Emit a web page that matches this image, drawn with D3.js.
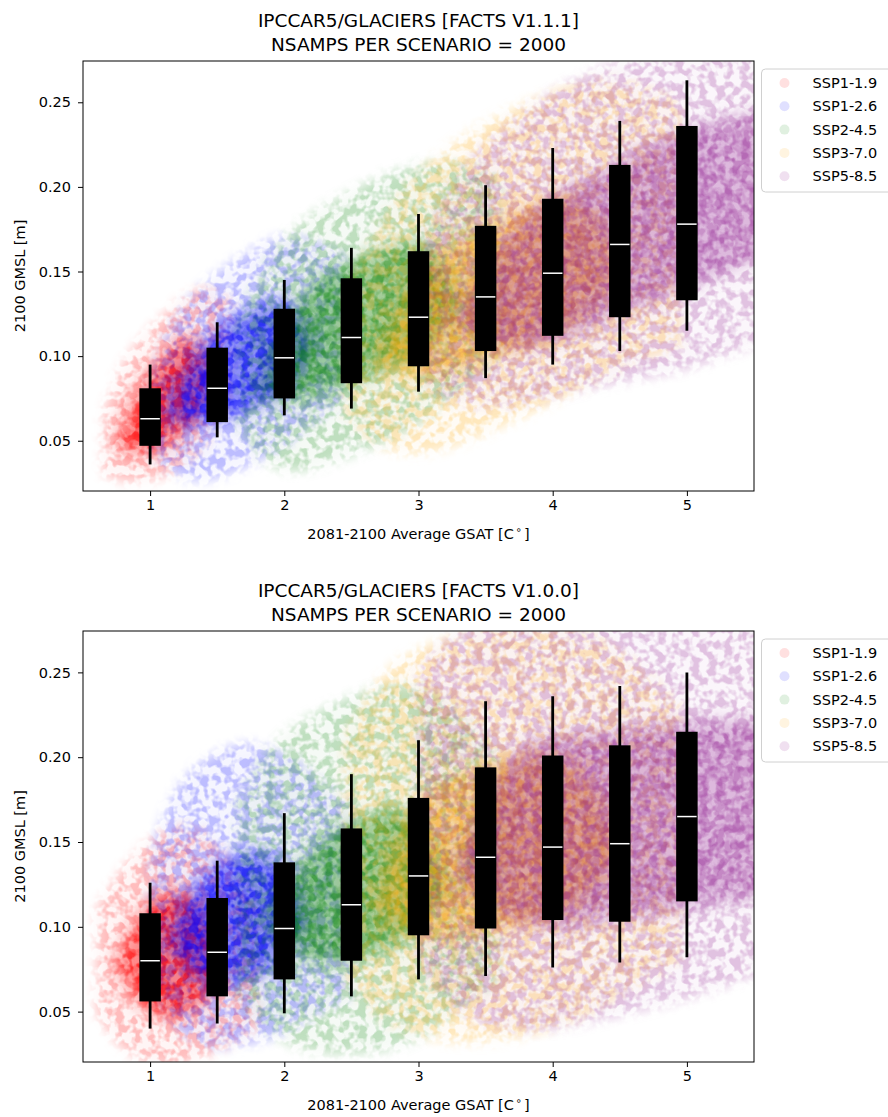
<!DOCTYPE html>
<html>
<head>
<meta charset="utf-8">
<script src="https://cdn.jsdelivr.net/npm/d3@7"></script>
<style>
  body { margin: 0; background: #fff; }
  svg { display: block; }
  text { font-family: "DejaVu Sans", sans-serif; fill: #000; }
</style>
</head>
<body>
<svg id="fig" width="888" height="1117"></svg>
<script>
// ---- scenarios ----
const scenarios = ["SSP1-1.9", "SSP1-2.6", "SSP2-4.5", "SSP3-7.0", "SSP5-8.5"];
const scenarioColors = ["#ff0000", "#0000ff", "#008000", "#ffa500", "#800080"];

// ---- sample clouds: rows [GSAT, low, high, coreLow, coreHigh] (GMSL in m) ----
// FACTS v1.1.1
const v111_ssp119 = [
  [0.65, 0.030, 0.065, null, null],
  [0.75, 0.027, 0.090, 0.048, 0.052],
  [0.90, 0.025, 0.108, 0.040, 0.080],
  [1.05, 0.027, 0.120, 0.045, 0.095],
  [1.20, 0.032, 0.132, 0.052, 0.108],
  [1.35, 0.042, 0.140, 0.062, 0.115],
  [1.45, 0.055, 0.140, 0.085, 0.090],
  [1.60, 0.075, 0.132, null, null]
];
const v111_ssp126 = [
  [1.00, 0.045, 0.085, null, null],
  [1.15, 0.030, 0.120, 0.065, 0.070],
  [1.35, 0.025, 0.140, 0.058, 0.105],
  [1.60, 0.030, 0.155, 0.063, 0.122],
  [1.85, 0.040, 0.168, 0.072, 0.132],
  [2.05, 0.050, 0.172, 0.080, 0.135],
  [2.20, 0.060, 0.168, 0.105, 0.110],
  [2.45, 0.075, 0.160, null, null]
];
const v111_ssp245 = [
  [1.65, 0.060, 0.120, null, null],
  [1.85, 0.035, 0.155, 0.080, 0.085],
  [2.10, 0.030, 0.180, 0.072, 0.140],
  [2.45, 0.040, 0.195, 0.083, 0.155],
  [2.80, 0.050, 0.210, 0.093, 0.165],
  [3.10, 0.065, 0.215, 0.105, 0.170],
  [3.30, 0.080, 0.215, 0.130, 0.135],
  [3.60, 0.100, 0.205, null, null]
];
const v111_ssp370 = [
  [2.45, 0.065, 0.135, null, null],
  [2.70, 0.045, 0.180, 0.095, 0.100],
  [3.00, 0.040, 0.210, 0.085, 0.155],
  [3.40, 0.050, 0.235, 0.095, 0.175],
  [3.80, 0.065, 0.250, 0.105, 0.190],
  [4.20, 0.080, 0.262, 0.118, 0.200],
  [4.50, 0.095, 0.265, 0.150, 0.155],
  [4.95, 0.105, 0.250, null, null]
];
const v111_ssp585 = [
  [3.05, 0.085, 0.170, null, null],
  [3.30, 0.070, 0.210, 0.120, 0.125],
  [3.70, 0.070, 0.240, 0.100, 0.180],
  [4.10, 0.078, 0.262, 0.112, 0.198],
  [4.50, 0.085, 0.275, 0.125, 0.215],
  [4.90, 0.090, 0.280, 0.138, 0.232],
  [5.30, 0.100, 0.280, 0.150, 0.240],
  [5.60, 0.110, 0.280, 0.160, 0.245]
];
// FACTS v1.0.0
const v100_ssp119 = [
  [0.60, 0.050, 0.110, null, null],
  [0.75, 0.030, 0.130, 0.075, 0.080],
  [0.95, 0.020, 0.150, 0.050, 0.115],
  [1.15, 0.018, 0.158, 0.045, 0.122],
  [1.35, 0.020, 0.160, 0.050, 0.120],
  [1.55, 0.030, 0.145, 0.070, 0.075],
  [1.80, 0.040, 0.110, null, null]
];
const v100_ssp126 = [
  [1.00, 0.075, 0.140, null, null],
  [1.15, 0.040, 0.180, 0.090, 0.095],
  [1.40, 0.028, 0.200, 0.065, 0.135],
  [1.70, 0.030, 0.210, 0.068, 0.145],
  [1.95, 0.035, 0.205, 0.075, 0.145],
  [2.15, 0.045, 0.195, 0.100, 0.110],
  [2.50, 0.060, 0.170, null, null]
];
const v100_ssp245 = [
  [1.65, 0.060, 0.170, null, null],
  [1.90, 0.035, 0.210, 0.100, 0.110],
  [2.20, 0.025, 0.225, 0.075, 0.150],
  [2.60, 0.025, 0.240, 0.082, 0.165],
  [2.95, 0.030, 0.245, 0.092, 0.175],
  [3.20, 0.045, 0.235, 0.120, 0.130],
  [3.60, 0.070, 0.200, null, null]
];
const v100_ssp370 = [
  [2.45, 0.070, 0.210, null, null],
  [2.70, 0.045, 0.250, 0.110, 0.120],
  [3.00, 0.035, 0.265, 0.090, 0.180],
  [3.40, 0.030, 0.275, 0.095, 0.195],
  [3.80, 0.035, 0.280, 0.100, 0.200],
  [4.20, 0.045, 0.275, 0.110, 0.200],
  [4.50, 0.060, 0.265, 0.145, 0.155],
  [4.95, 0.080, 0.230, null, null]
];
const v100_ssp585 = [
  [3.00, 0.080, 0.250, null, null],
  [3.30, 0.045, 0.280, 0.130, 0.140],
  [3.70, 0.038, 0.280, 0.100, 0.210],
  [4.10, 0.040, 0.280, 0.100, 0.212],
  [4.50, 0.048, 0.280, 0.105, 0.215],
  [4.90, 0.055, 0.280, 0.110, 0.220],
  [5.30, 0.065, 0.280, 0.115, 0.222],
  [5.60, 0.075, 0.280, 0.120, 0.222]
];

// ---- GSAT-binned box plots: [whiskerLow, q1, median, q3, whiskerHigh] ----
const boxPositions = [1, 1.5, 2, 2.5, 3, 3.5, 4, 4.5, 5];
const v111_boxes = [
  [0.036, 0.047, 0.063, 0.081, 0.095],
  [0.052, 0.061, 0.081, 0.105, 0.120],
  [0.065, 0.075, 0.099, 0.128, 0.145],
  [0.069, 0.084, 0.111, 0.146, 0.164],
  [0.079, 0.094, 0.123, 0.162, 0.184],
  [0.087, 0.103, 0.135, 0.177, 0.201],
  [0.095, 0.112, 0.149, 0.193, 0.223],
  [0.103, 0.123, 0.166, 0.213, 0.239],
  [0.115, 0.133, 0.178, 0.236, 0.263]
];
const v100_boxes = [
  [0.040, 0.056, 0.080, 0.108, 0.126],
  [0.043, 0.059, 0.085, 0.117, 0.139],
  [0.049, 0.069, 0.099, 0.138, 0.167],
  [0.059, 0.080, 0.113, 0.158, 0.190],
  [0.069, 0.095, 0.130, 0.176, 0.210],
  [0.071, 0.099, 0.141, 0.194, 0.233],
  [0.076, 0.104, 0.147, 0.201, 0.236],
  [0.079, 0.103, 0.149, 0.207, 0.242],
  [0.082, 0.115, 0.165, 0.215, 0.250]
];

// ---- axes ----
const xTicks = [1, 2, 3, 4, 5];
const yTicks = [0.05, 0.10, 0.15, 0.20, 0.25];
const xDomain = [0.5, 5.5];
const yDomain = [0.0203, 0.2744];

const panels = [
  { top: 61, bottom: 491, title: ["IPCCAR5/GLACIERS [FACTS V1.1.1]", "NSAMPS PER SCENARIO = 2000"],
    clouds: [v111_ssp119, v111_ssp126, v111_ssp245, v111_ssp370, v111_ssp585], boxes: v111_boxes },
  { top: 631, bottom: 1062, title: ["IPCCAR5/GLACIERS [FACTS V1.0.0]", "NSAMPS PER SCENARIO = 2000"],
    clouds: [v100_ssp119, v100_ssp126, v100_ssp245, v100_ssp370, v100_ssp585], boxes: v100_boxes }
];

// cloud styling
const outerOpacity = [0.26, 0.26, 0.25, 0.26, 0.24];
const coreOpacity = [0.8, 0.75, 0.62, 0.55, 0.45];
const labelSize = 14.5, titleSize = 18.5;

const svg = d3.select("#fig");
const defs = svg.append("defs");

// soft, grainy fill: blurred shape whose alpha is modulated by a fine blotch texture
function grainFilter(id, blur, seed, keep) {
  const f = defs.append("filter").attr("id", id)
    .attr("x", "-25%").attr("y", "-25%").attr("width", "150%").attr("height", "150%")
    .attr("color-interpolation-filters", "sRGB");
  f.append("feGaussianBlur").attr("in", "SourceGraphic").attr("stdDeviation", blur).attr("result", "b");
  f.append("feTurbulence").attr("type", "fractalNoise").attr("baseFrequency", 0.12)
    .attr("numOctaves", 2).attr("seed", seed).attr("result", "n");
  f.append("feColorMatrix").attr("in", "n").attr("type", "matrix")
    .attr("values", "0 0 0 0 1  0 0 0 0 1  0 0 0 0 1  5 0 0 0 -2.1").attr("result", "m");
  f.append("feComposite").attr("in", "b").attr("in2", "m").attr("operator", "arithmetic")
    .attr("k1", 1 - keep).attr("k2", keep).attr("k3", 0).attr("k4", 0);
}

const left = 83, right = 754;
const x = d3.scaleLinear().domain(xDomain).range([left, right]);

panels.forEach((p, pi) => {
  const y = d3.scaleLinear().domain(yDomain).range([p.bottom, p.top]);
  const g = svg.append("g");
  const clipId = "clip" + pi;
  defs.append("clipPath").attr("id", clipId)
    .append("rect").attr("x", left).attr("y", p.top).attr("width", right - left).attr("height", p.bottom - p.top);

  const plot = g.append("g").attr("clip-path", `url(#${clipId})`);

  const outer = d3.area().x(d => x(d[0])).y0(d => y(d[1])).y1(d => y(d[2])).curve(d3.curveBasis);
  const core = d3.area().defined(d => d[3] != null).x(d => x(d[0])).y0(d => y(d[3])).y1(d => y(d[4])).curve(d3.curveBasis);

  p.clouds.forEach((rows, si) => {
    const oId = `go${pi}${si}`, cId = `gc${pi}${si}`;
    grainFilter(oId, 6, 11 + pi * 17 + si * 5, 0.15);
    grainFilter(cId, 8, 53 + pi * 13 + si * 7, 0.55);
    const sg = plot.append("g");
    sg.append("path").attr("d", outer(rows)).attr("fill", scenarioColors[si])
      .attr("fill-opacity", outerOpacity[si]).attr("filter", `url(#${oId})`);
    sg.append("path").attr("d", core(rows)).attr("fill", scenarioColors[si])
      .attr("fill-opacity", coreOpacity[si]).attr("filter", `url(#${cId})`);
  });

  // box plots
  const halfW = (x(0.08) - x(0));
  const bx = plot.selectAll("g.box").data(p.boxes).join("g").attr("class", "box")
    .attr("transform", (d, i) => `translate(${x(boxPositions[i])},0)`);
  bx.append("line").attr("x1", 0).attr("x2", 0).attr("y1", d => y(d[0])).attr("y2", d => y(d[4]))
    .attr("stroke", "#000").attr("stroke-width", 2.8);
  bx.append("rect").attr("x", -halfW).attr("width", 2 * halfW)
    .attr("y", d => y(d[3])).attr("height", d => y(d[1]) - y(d[3])).attr("fill", "#000");
  bx.append("line").attr("x1", -halfW + 1).attr("x2", halfW - 1).attr("y1", d => y(d[2])).attr("y2", d => y(d[2]))
    .attr("stroke", "#fff").attr("stroke-width", 1.5);

  // frame
  g.append("rect").attr("x", left).attr("y", p.top).attr("width", right - left).attr("height", p.bottom - p.top)
    .attr("fill", "none").attr("stroke", "#000").attr("stroke-width", 1);

  // axes
  const xa = g.append("g").attr("transform", `translate(0,${p.bottom})`)
    .call(d3.axisBottom(x).tickValues(xTicks).tickFormat(d3.format("d")).tickSize(5).tickPadding(4));
  const ya = g.append("g").attr("transform", `translate(${left},0)`)
    .call(d3.axisLeft(y).tickValues(yTicks).tickFormat(d3.format(".2f")).tickSize(5).tickPadding(7));
  [xa, ya].forEach(a => {
    a.select(".domain").remove();
    a.selectAll("text").attr("font-size", labelSize).attr("font-family", "DejaVu Sans").attr("fill", "#000");
    a.selectAll("line").attr("stroke", "#000");
  });

  // titles
  const cx = (left + right) / 2;
  g.append("text").attr("x", cx).attr("y", p.top - 34).attr("text-anchor", "middle").attr("font-size", titleSize).text(p.title[0]);
  g.append("text").attr("x", cx).attr("y", p.top - 10).attr("text-anchor", "middle").attr("font-size", titleSize).text(p.title[1]);

  // axis labels
  const xl = g.append("text").attr("x", cx).attr("y", p.bottom + 48).attr("text-anchor", "middle").attr("font-size", labelSize);
  xl.append("tspan").text("2081-2100 Average GSAT [C");
  xl.append("tspan").attr("font-size", 10).attr("dy", -6).attr("dx", 2).text("\u2218");
  xl.append("tspan").attr("dy", 6).attr("dx", 2).text("]");
  g.append("text").attr("transform", `translate(25,${(p.top + p.bottom) / 2}) rotate(-90)`)
    .attr("text-anchor", "middle").attr("font-size", labelSize).text("2100 GMSL [m]");

  // legend
  const lg = g.append("g").attr("transform", `translate(761.5,${p.top + 8})`);
  lg.append("rect").attr("x", 0).attr("y", 0).attr("width", 150).attr("height", 123).attr("rx", 4)
    .attr("fill", "#fff").attr("fill-opacity", 0.85).attr("stroke", "#d0d0d0");
  scenarios.forEach((s, si) => {
    const ly = 14 + si * 23.3;
    lg.append("circle").attr("cx", 23).attr("cy", ly).attr("r", 5).attr("fill", scenarioColors[si]).attr("fill-opacity", 0.12);
    lg.append("text").attr("x", 51).attr("y", ly + 5).attr("font-size", labelSize).text(s);
  });
});
</script>
</body>
</html>
